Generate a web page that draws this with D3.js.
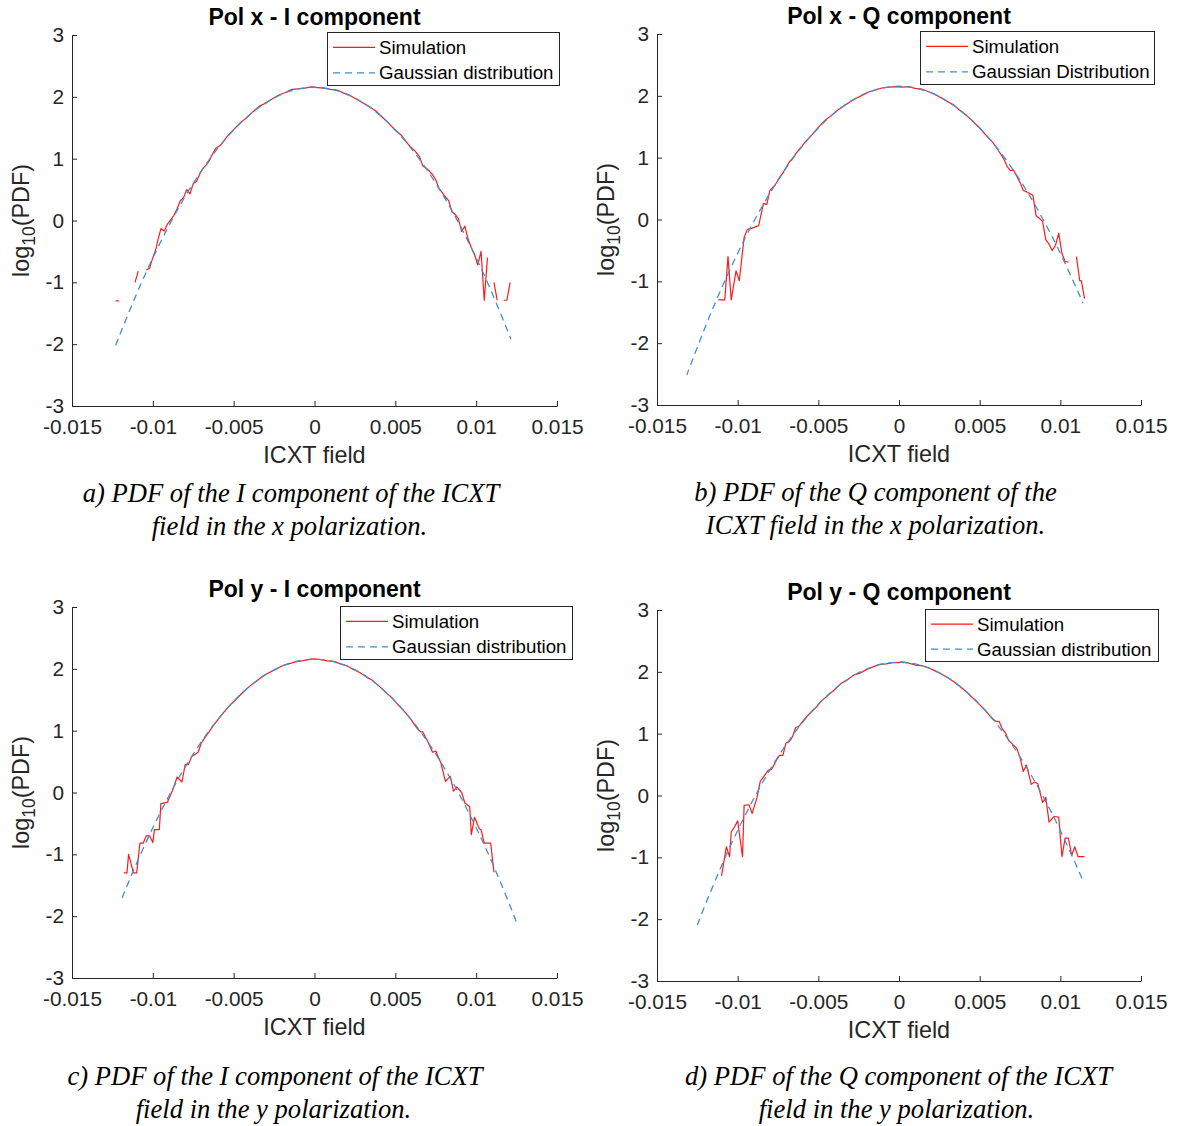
<!DOCTYPE html>
<html><head><meta charset="utf-8">
<script src="https://cdn.jsdelivr.net/npm/d3@7"></script>
<style>
html,body{margin:0;padding:0;background:#fff;}
svg text{font-family:"Liberation Sans",Arial,Helvetica,sans-serif;fill:#262626;}
.cap{font-family:"Liberation Serif","Times New Roman",serif !important;font-style:italic;fill:#000 !important;}
</style></head><body>
<script>
// ---------- DATA ----------
const xTicks = [-0.015,-0.01,-0.005,0,0.005,0.01,0.015];
const yTicks = [-3,-2,-1,0,1,2,3];
const titles = ["Pol x - I component","Pol x - Q component","Pol y - I component","Pol y - Q component"];
const legendSim = ["Simulation","Simulation","Simulation","Simulation"];
const legendGauss = ["Gaussian distribution","Gaussian Distribution","Gaussian distribution","Gaussian distribution"];
const captions = [
  ["a) PDF of the I component of the ICXT","field in the x polarization."],
  ["b) PDF of the Q component of the","ICXT field in the x polarization."],
  ["c) PDF of the I component of the ICXT","field in the y polarization."],
  ["d) PDF of the Q component of the ICXT","field in the y polarization."]
];

const simA = [[-0.0123,-1.3],[-0.0121,-1.3],[-0.0119,null],
[-0.0111,-1.0],[-0.0109,-0.82],[-0.0107,null],
[-0.0104,-0.80],[-0.0102,-0.77],[-0.0100,-0.60],[-0.0098,-0.45],[-0.0097,-0.33],[-0.0095,-0.13],[-0.0093,-0.17],[-0.0091,-0.06],[-0.0089,0.01],[-0.0087,0.08],[-0.0085,0.19],[-0.0083,0.32],[-0.0081,0.37],[-0.0079,0.50],[-0.0077,0.43],[-0.0075,0.60],[-0.0073,0.63],[-0.0071,0.75],[-0.0069,0.84],[-0.0067,0.90],[-0.0065,0.97],[-0.0063,1.08],[-0.0061,1.17],
[-0.0058,1.22],[-0.0054,1.36],[-0.0050,1.47],[-0.0046,1.58],[-0.0042,1.66],[-0.0038,1.76],[-0.0034,1.85],[-0.0030,1.90],[-0.0026,1.97],[-0.0022,2.03],[-0.0018,2.07],[-0.0014,2.12],[-0.0010,2.13],[-0.0006,2.14],[-0.0002,2.16],[0.0002,2.15],[0.0006,2.14],[0.0010,2.12],[0.0014,2.11],[0.0018,2.06],[0.0022,2.02],[0.0026,1.96],[0.0030,1.90],[0.0034,1.84],[0.0038,1.77],[0.0042,1.67],[0.0046,1.57],[0.0050,1.46],[0.0054,1.37],[0.0058,1.23],[0.0062,1.13],
[0.0065,1.03],[0.0067,0.88],[0.0069,0.85],[0.0071,0.80],[0.0073,0.74],[0.0075,0.66],[0.0077,0.52],[0.0079,0.45],[0.0081,0.38],[0.0083,0.32],[0.0085,0.14],[0.0087,0.10],[0.0089,0.03],[0.0091,-0.18],[0.0093,-0.09],[0.0095,-0.30],[0.0097,-0.44],[0.0099,-0.55],[0.0101,-0.72],[0.0103,-0.50],[0.0105,-1.29],[0.0107,-0.60],[0.0109,null],[0.0111,-1.0],[0.0113,-1.29],[0.0115,null],[0.0117,-1.29],[0.0119,-1.29],[0.0121,-1.0]];

const simB = [[-0.0112,-1.3],[-0.0108,-1.3],[-0.0106,-0.6],[-0.0104,-1.3],[-0.0101,-0.83],[-0.0099,-0.99],[-0.0096,-0.29],[-0.0094,-0.16],[-0.0091,-0.14],[-0.0089,-0.12],[-0.0087,-0.10],[-0.0084,0.26],[-0.0082,0.24],[-0.0080,0.47],[-0.0077,0.55],[-0.0074,0.68],[-0.0072,0.75],[-0.0070,0.84],[-0.0068,0.93],[-0.0066,0.99],[-0.0064,1.06],[-0.0062,1.13],[-0.0060,1.19],
[-0.0058,1.26],[-0.0054,1.37],[-0.0050,1.49],[-0.0046,1.60],[-0.0042,1.68],[-0.0038,1.77],[-0.0034,1.84],[-0.0030,1.91],[-0.0026,1.97],[-0.0022,2.02],[-0.0018,2.07],[-0.0014,2.10],[-0.0010,2.13],[-0.0006,2.14],[-0.0002,2.15],[0.0002,2.14],[0.0006,2.15],[0.0010,2.12],[0.0014,2.11],[0.0018,2.07],[0.0022,2.03],[0.0026,1.97],[0.0030,1.91],[0.0034,1.85],[0.0038,1.76],[0.0042,1.68],[0.0046,1.58],[0.0050,1.48],[0.0054,1.36],[0.0058,1.25],[0.0061,1.14],
[0.0063,1.06],[0.0065,0.98],[0.0067,0.86],[0.0069,0.79],[0.0071,0.80],[0.0073,0.70],[0.0075,0.60],[0.0077,0.47],[0.0079,0.45],[0.0081,0.42],[0.0083,0.39],[0.0085,0.06],[0.0087,0.02],[0.0089,-0.03],[0.0091,-0.33],[0.0093,-0.40],[0.0095,-0.50],[0.0097,-0.42],[0.0099,-0.22],[0.0101,-0.55],[0.0103,-0.68],[0.0105,-0.69],[0.0107,null],[0.0110,-0.60],[0.0112,-0.99],[0.0113,-0.99],[0.0115,-1.28]];

const simC = [[-0.0118,-1.3],[-0.0116,-1.3],[-0.0115,-1.0],[-0.0112,-1.3],[-0.0110,-1.3],[-0.0108,-0.82],[-0.0106,-0.82],[-0.0104,-0.70],[-0.0102,-0.70],[-0.0100,-0.81],[-0.0099,-0.60],[-0.0096,-0.60],[-0.0095,-0.18],[-0.0091,-0.16],[-0.0087,0.09],[-0.0085,0.25],[-0.0082,0.17],[-0.0080,0.45],[-0.0078,0.45],[-0.0076,0.58],[-0.0072,0.65],[-0.0070,0.80],[-0.0068,0.88],[-0.0066,0.95],[-0.0064,1.03],[-0.0062,1.10],[-0.0060,1.17],
[-0.0056,1.30],[-0.0052,1.42],[-0.0048,1.52],[-0.0044,1.63],[-0.0040,1.72],[-0.0036,1.80],[-0.0032,1.88],[-0.0028,1.94],[-0.0024,1.99],[-0.0020,2.05],[-0.0016,2.08],[-0.0012,2.11],[-0.0008,2.13],[-0.0004,2.15],[0.0000,2.16],[0.0004,2.15],[0.0008,2.13],[0.0012,2.12],[0.0016,2.08],[0.0020,2.05],[0.0024,1.99],[0.0028,1.94],[0.0032,1.87],[0.0036,1.81],[0.0040,1.72],[0.0044,1.62],[0.0048,1.53],[0.0052,1.41],[0.0056,1.30],[0.0060,1.17],[0.0062,1.09],
[0.0064,1.02],[0.0066,0.98],[0.0067,0.98],[0.0070,0.83],[0.0073,0.65],[0.0075,0.67],[0.0078,0.49],[0.0081,0.18],[0.0084,0.26],[0.0086,0.02],[0.0088,0.09],[0.0091,0.0],[0.0093,-0.17],[0.0096,-0.23],[0.0097,-0.68],[0.0099,-0.40],[0.0102,-0.59],[0.0103,-0.60],[0.0105,-0.82],[0.0109,-0.82],[0.0111,-1.29]];

const simD = [[-0.0110,-1.3],[-0.0107,-0.83],[-0.0105,-0.99],[-0.0104,-0.59],[-0.0102,-0.51],[-0.0100,-0.41],[-0.0097,-0.99],[-0.0096,-0.16],[-0.0093,-0.15],[-0.0091,-0.29],[-0.0088,-0.03],[-0.0086,0.23],[-0.0084,0.30],[-0.0081,0.41],[-0.0079,0.42],[-0.0076,0.57],[-0.0074,0.65],[-0.0072,0.65],[-0.0070,0.85],[-0.0068,0.87],[-0.0066,0.95],[-0.0064,1.10],[-0.0062,1.12],[-0.0060,1.19],
[-0.0056,1.31],[-0.0052,1.41],[-0.0048,1.53],[-0.0044,1.62],[-0.0040,1.71],[-0.0036,1.81],[-0.0032,1.87],[-0.0028,1.95],[-0.0024,1.98],[-0.0020,2.04],[-0.0016,2.08],[-0.0012,2.12],[-0.0008,2.13],[-0.0004,2.15],[0.0000,2.15],[0.0002,2.16],[0.0006,2.14],[0.0010,2.11],[0.0014,2.10],[0.0018,2.07],[0.0022,2.02],[0.0026,1.97],[0.0030,1.91],[0.0034,1.84],[0.0038,1.76],[0.0042,1.67],[0.0046,1.57],[0.0050,1.47],[0.0054,1.36],[0.0058,1.24],[0.0060,1.20],[0.0062,1.20],[0.0064,1.08],[0.0066,1.01],
[0.0068,0.89],[0.0070,0.84],[0.0073,0.76],[0.0075,0.62],[0.0077,0.39],[0.0079,0.49],[0.0082,0.18],[0.0084,0.22],[0.0086,0.19],[0.0089,-0.11],[0.0091,-0.03],[0.0093,-0.43],[0.0096,-0.34],[0.0099,-0.35],[0.0101,-0.99],[0.0103,-0.69],[0.0105,-0.69],[0.0107,-0.97],[0.0109,-0.83],[0.0111,-0.99],[0.0115,-0.99]];

const gaussA = [[-0.0123,-2.02],[-0.012,-1.819],[-0.011,-1.185],[-0.010,-0.605],[-0.009,-0.081],[-0.008,0.389],[-0.007,0.803],[-0.006,1.161],[-0.005,1.465],[-0.004,1.713],[-0.003,1.907],[-0.002,2.045],[-0.001,2.127],[0,2.155],[0.001,2.127],[0.002,2.045],[0.003,1.907],[0.004,1.713],[0.005,1.465],[0.006,1.161],[0.007,0.803],[0.008,0.389],[0.009,-0.081],[0.010,-0.605],[0.011,-1.185],[0.012,-1.819],[0.0121,-1.886]];
const gaussB = [[-0.0131,-2.478],[-0.013,-2.408],[-0.012,-1.733],[-0.011,-1.112],[-0.010,-0.545],[-0.009,-0.032],[-0.008,0.427],[-0.007,0.832],[-0.006,1.183],[-0.005,1.480],[-0.004,1.723],[-0.003,1.912],[-0.002,2.047],[-0.001,2.128],[0,2.155],[0.001,2.128],[0.002,2.047],[0.003,1.912],[0.004,1.723],[0.005,1.480],[0.006,1.183],[0.007,0.832],[0.008,0.427],[0.009,-0.032],[0.010,-0.545],[0.011,-1.112],[0.0114,-1.354]];
const gaussC = [[-0.0119,-1.704],[-0.011,-1.142],[-0.010,-0.570],[-0.009,-0.052],[-0.008,0.411],[-0.007,0.820],[-0.006,1.174],[-0.005,1.474],[-0.004,1.719],[-0.003,1.910],[-0.002,2.046],[-0.001,2.128],[0,2.155],[0.001,2.128],[0.002,2.046],[0.003,1.910],[0.004,1.719],[0.005,1.474],[0.006,1.174],[0.007,0.820],[0.008,0.411],[0.009,-0.052],[0.010,-0.570],[0.011,-1.142],[0.012,-1.769],[0.0125,-2.103]];
const gaussD = [[-0.0125,-2.095],[-0.012,-1.762],[-0.011,-1.136],[-0.010,-0.565],[-0.009,-0.048],[-0.008,0.414],[-0.007,0.822],[-0.006,1.176],[-0.005,1.475],[-0.004,1.720],[-0.003,1.910],[-0.002,2.046],[-0.001,2.128],[0,2.155],[0.001,2.128],[0.002,2.046],[0.003,1.910],[0.004,1.720],[0.005,1.475],[0.006,1.176],[0.007,0.822],[0.008,0.414],[0.009,-0.048],[0.010,-0.565],[0.011,-1.136],[0.0114,-1.38]];

const sims = [simA, simB, simC, simD];
const gausses = [gaussA, gaussB, gaussC, gaussD];

// ---------- LAYOUT ----------
const layout = [
  {l:72, r:557, t:35, b:406, lg:[327,559,32,85], tY:25, xlY:463, cx:[291,289.5], cy:[502,535]},
  {l:657, r:1141, t:34, b:405, lg:[920,1154,31,84], tY:24, xlY:462, cx:[875.5,875.5], cy:[501,534]},
  {l:72, r:557, t:607, b:978, lg:[340,572,606,659], tY:597, xlY:1035, cx:[275,273.5], cy:[1085,1118]},
  {l:657, r:1141, t:610, b:981, lg:[925,1158,609,661], tY:600, xlY:1038, cx:[898.5,896.5], cy:[1085,1118]}
];
const RED = "#ff1a1a", BLUE = "#3d8fd4", AX = "#262626";

const svg = d3.select("body").append("svg").attr("width",1178).attr("height",1126)
  .style("display","block");
svg.append("rect").attr("width",1178).attr("height",1126).attr("fill","#fff");

layout.forEach((L,i)=>{
  const g = svg.append("g");
  const x = d3.scaleLinear().domain([-0.015,0.015]).range([L.l,L.r]);
  const y = d3.scaleLinear().domain([-3,3]).range([L.b,L.t]);

  const xa = g.append("g").attr("transform",`translate(0,${L.b})`)
    .call(d3.axisBottom(x).tickValues(xTicks).tickFormat(d=>d===0?"0":String(+d.toFixed(3))).tickSizeInner(-5).tickSizeOuter(0).tickPadding(13));
  const ya = g.append("g").attr("transform",`translate(${L.l},0)`)
    .call(d3.axisLeft(y).tickValues(yTicks).tickFormat(d=>String(d)).tickSizeInner(-5).tickSizeOuter(0).tickPadding(8));
  [xa,ya].forEach(a=>{
    a.selectAll("path,line").attr("stroke",AX).attr("stroke-width",1);
    a.selectAll("text").attr("font-size",20.8).attr("fill",AX)
      .style("font-family",'"Liberation Sans",Arial,sans-serif');
  });

  // lines
  const line = d3.line().defined(d=>d[1]!==null).x(d=>x(d[0])).y(d=>y(d[1]));
  g.append("path").datum(sims[i]).attr("d",line).attr("fill","none")
    .attr("stroke",RED).attr("stroke-width",1.2).attr("stroke-linejoin","round");
  const gl = d3.line().curve(d3.curveNatural).x(d=>x(d[0])).y(d=>y(d[1]));
  g.append("path").datum(gausses[i]).attr("d",gl).attr("fill","none")
    .attr("stroke",BLUE).attr("stroke-width",1.3).attr("stroke-dasharray","7,5");

  // title
  g.append("text").attr("x",(L.l+L.r)/2).attr("y",L.tY).attr("text-anchor","middle")
    .attr("font-size",23).attr("font-weight","bold").style("fill","#000").text(titles[i]);
  // x label
  g.append("text").attr("x",(L.l+L.r)/2).attr("y",L.xlY).attr("text-anchor","middle")
    .attr("font-size",23.4).text("ICXT field");
  // y label
  const yl = g.append("text").attr("transform",`translate(${L.l-43},${(L.t+L.b)/2}) rotate(-90)`)
    .attr("text-anchor","middle").attr("font-size",23.4);
  yl.append("tspan").text("log");
  yl.append("tspan").attr("font-size",17.5).attr("dy",6).text("10");
  yl.append("tspan").attr("dy",-6).text("(PDF)");

  // legend
  const [lx0,lx1,ly0,ly1] = L.lg;
  g.append("rect").attr("x",lx0+0.5).attr("y",ly0+0.5).attr("width",lx1-lx0).attr("height",ly1-ly0)
    .attr("fill","#fff").attr("stroke",AX).attr("stroke-width",1);
  const r1 = ly0 + (ly1-ly0)*0.29, r2 = ly0 + (ly1-ly0)*0.77;
  g.append("line").attr("x1",lx0+6).attr("x2",lx0+48).attr("y1",r1).attr("y2",r1)
    .attr("stroke",RED).attr("stroke-width",1.2);
  g.append("line").attr("x1",lx0+6).attr("x2",lx0+48).attr("y1",r2).attr("y2",r2)
    .attr("stroke",BLUE).attr("stroke-width",1.3).attr("stroke-dasharray","7,5");
  g.append("text").attr("x",lx0+52).attr("y",r1+6.5).attr("font-size",18.7).style("fill","#000").text(legendSim[i]);
  g.append("text").attr("x",lx0+52).attr("y",r2+6.5).attr("font-size",18.7).style("fill","#000").text(legendGauss[i]);

  // caption
  captions[i].forEach((c,j)=>{
    svg.append("text").attr("class","cap").attr("x",L.cx[j]).attr("y",L.cy[j])
      .attr("text-anchor","middle").attr("font-size",26.6).text(c);
  });
});
</script>
</body></html>
